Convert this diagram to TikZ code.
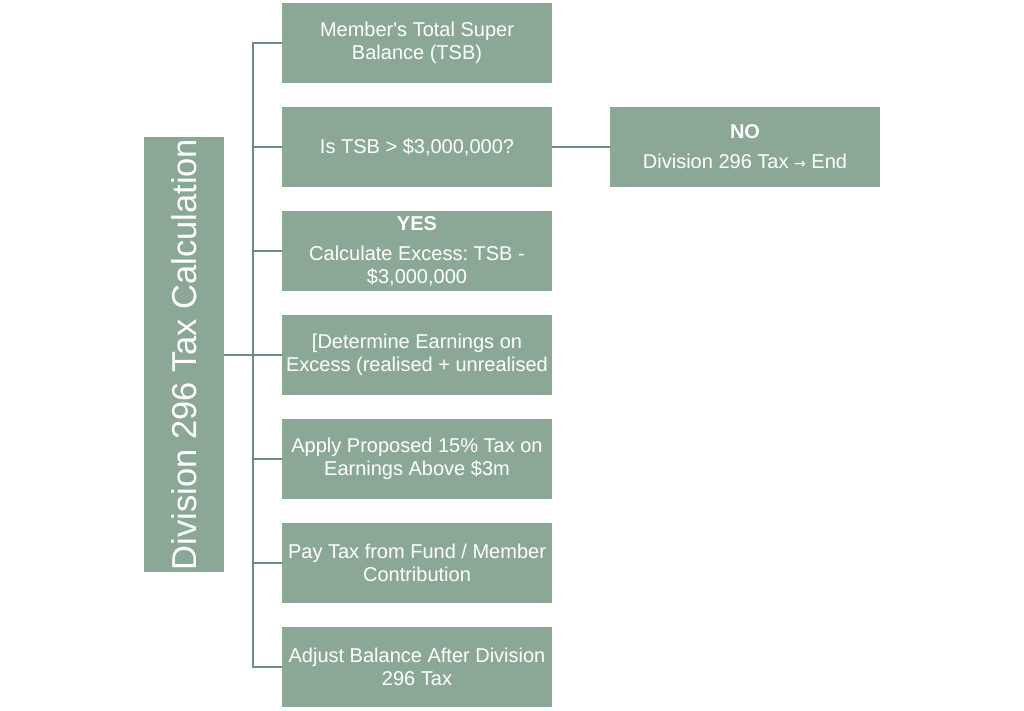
\documentclass[tikz,border=0pt]{standalone}
\usepackage{fontspec}
\newfontfamily\boxfont{Liberation Sans}
\newfontfamily\arrowfont{DejaVu Sans}
\usepackage{tikz}
\definecolor{sage}{HTML}{8BA897}
\definecolor{sageline}{HTML}{6F8D7D}

\begin{document}
\frenchspacing
\begin{tikzpicture}[x=1pt,y=-1pt]
    \tikzstyle{box}=[fill=sage,text=white,align=center,inner sep=0pt,minimum width=270pt,minimum height=80pt,font=\boxfont\fontsize{20}{23}\selectfont]
    \tikzstyle{rootbox}=[fill=sage,text=white,inner sep=0pt,minimum width=435pt,minimum height=80pt,rotate=90,font=\boxfont\fontsize{34.5}{38}\selectfont]
    \tikzstyle{edge}=[draw=sageline,line width=2pt]

    \useasboundingbox (0,0) rectangle (1024,710);

    \node[rootbox] (root) at (184,354.5) {Division 296 Tax Calculation};

    \node[box] (tsb) at (417,43) {Member's Total Super\\Balance (TSB)};
    \node[box] (check) at (417,147) {Is TSB > \$3,000,000?};
    \node[box] (excess) at (417,251) {\textbf{YES}\\[7pt]Calculate Excess: TSB -\\\$3,000,000};
    \node[box] (earn) at (417,355) {[Determine Earnings on\\Excess (realised + unrealised};
    \node[box] (apply) at (417,459) {Apply Proposed 15\% Tax on\\Earnings Above \$3m};
    \node[box] (pay) at (417,563) {Pay Tax from Fund / Member\\Contribution};
    \node[box] (adjust) at (417,667) {Adjust Balance After Division\\296 Tax};
    \node[box] (no) at (745,147) {\textbf{NO}\\[7pt]Division 296 Tax {\arrowfont\fontsize{14}{14}\selectfont→} End};

    \coordinate (trunk) at (253,354.5);

    \path[edge] (root) -- (trunk);
    \path[edge] (tsb.west) -| (trunk) |- (adjust.west);
    \path[edge] (trunk |- check.west) -- (check.west);
    \path[edge] (trunk |- excess.west) -- (excess.west);
    \path[edge] (trunk |- earn.west) -- (earn.west);
    \path[edge] (trunk |- apply.west) -- (apply.west);
    \path[edge] (trunk |- pay.west) -- (pay.west);
    \path[edge] (check.east) -- (no.west);

\end{tikzpicture}
\end{document}
